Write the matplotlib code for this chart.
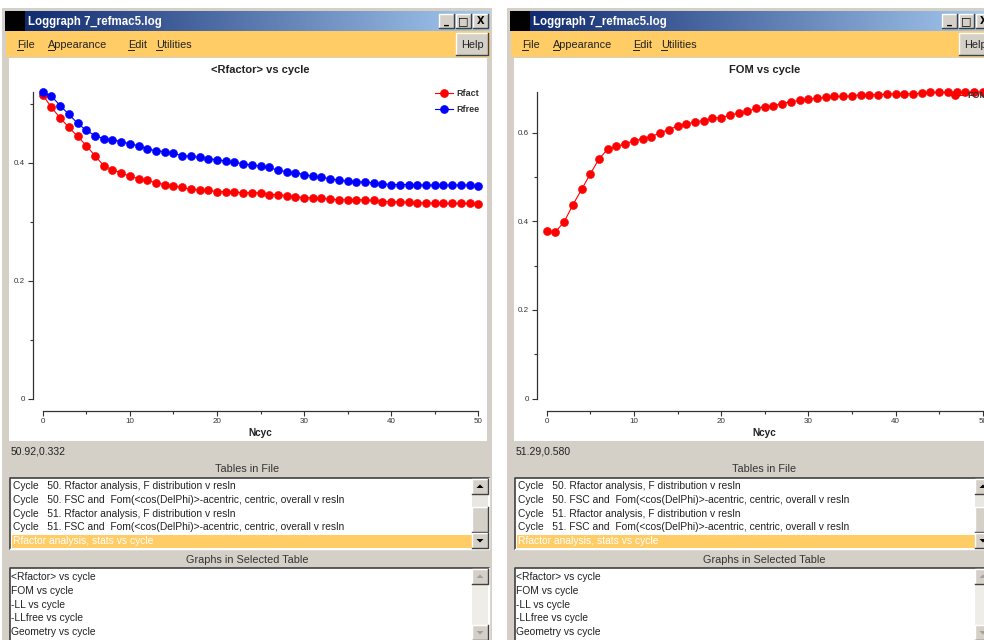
import numpy as np
import matplotlib.pyplot as plt
from matplotlib.patches import Rectangle, Polygon
from matplotlib.colors import LinearSegmentedColormap
from matplotlib.ticker import FuncFormatter

cycles = list(range(51))
rfact = [0.515, 0.494, 0.476, 0.460, 0.445, 0.429, 0.412, 0.395, 0.388, 0.383,
         0.377, 0.373, 0.370, 0.366, 0.363, 0.361, 0.358, 0.355, 0.354, 0.353,
         0.351, 0.351, 0.350, 0.349, 0.349, 0.349, 0.346, 0.346, 0.344, 0.342,
         0.341, 0.340, 0.340, 0.338, 0.337, 0.337, 0.337, 0.337, 0.336, 0.334,
         0.334, 0.333, 0.333, 0.332, 0.332, 0.331, 0.331, 0.331, 0.331, 0.331, 0.330]
rfree = [0.520, 0.513, 0.497, 0.482, 0.467, 0.455, 0.446, 0.441, 0.439, 0.436,
         0.432, 0.429, 0.424, 0.420, 0.419, 0.416, 0.412, 0.411, 0.409, 0.407,
         0.405, 0.403, 0.401, 0.398, 0.396, 0.394, 0.392, 0.387, 0.385, 0.383,
         0.380, 0.377, 0.375, 0.373, 0.370, 0.369, 0.368, 0.367, 0.366, 0.364,
         0.363, 0.363, 0.363, 0.362, 0.362, 0.362, 0.362, 0.362, 0.362, 0.362, 0.361]
fom = [0.378, 0.376, 0.399, 0.437, 0.472, 0.507, 0.541, 0.563, 0.569, 0.575,
       0.582, 0.586, 0.591, 0.600, 0.607, 0.615, 0.619, 0.625, 0.627, 0.633,
       0.634, 0.640, 0.644, 0.648, 0.655, 0.659, 0.661, 0.666, 0.670, 0.673,
       0.676, 0.678, 0.680, 0.682, 0.682, 0.683, 0.686, 0.686, 0.686, 0.687,
       0.688, 0.688, 0.688, 0.689, 0.691, 0.691, 0.691, 0.692, 0.692, 0.692, 0.692]

tables = ['Cycle   50. Rfactor analysis, F distribution v resln',
          'Cycle   50. FSC and  Fom(<cos(DelPhi)>-acentric, centric, overall v resln',
          'Cycle   51. Rfactor analysis, F distribution v resln',
          'Cycle   51. FSC and  Fom(<cos(DelPhi)>-acentric, centric, overall v resln',
          'Rfactor analysis, stats vs cycle']
graphs = ['<Rfactor> vs cycle', 'FOM vs cycle', '-LL vs cycle', '-LLfree vs cycle',
          'Geometry vs cycle']
menu_items = ['File', 'Appearance', 'Edit', 'Utilities']
menu_x = [15, 46, 126, 154]

W, H = 984, 640
GRAY = '#D4D0C8'
ORANGE = '#FFCC66'
TXT = '#222222'

plt.rcParams['font.family'] = ['Liberation Sans', 'DejaVu Sans']

fig = plt.figure(figsize=(W / 100, H / 100), dpi=100)
bg = fig.add_axes([0, 0, 1, 1])
bg.axis('off')
cap_cmap = LinearSegmentedColormap.from_list('cap', ['#0A246A', '#A6CAF0'])


def rect(x0, y0, x1, y1, fc, ec='none', lw=0, z=1):
    bg.add_patch(Rectangle((x0, y0), x1 - x0, y1 - y0, facecolor=fc,
                           edgecolor=ec, linewidth=lw, zorder=z))


def button(x0, y0, x1, y1, fc=GRAY):
    rect(x0, y0, x1, y1, fc, z=3)
    bg.plot([x0, x0, x1], [y1, y0, y0], color='white', lw=1, zorder=4)
    bg.plot([x0, x1, x1], [y1, y1, y0], color='#404040', lw=1, zorder=4)


def sunken(x0, y0, x1, y1):
    rect(x0, y0, x1, y1, 'white', z=2)
    bg.plot([x0, x0, x1], [y1, y0, y0], color='#404040', lw=1.2, zorder=4)
    bg.plot([x0, x1, x1], [y1, y1, y0], color='white', lw=1, zorder=4)


def arrow(cx, cy, up, color='black'):
    d = -1 if up else 1
    bg.add_patch(Polygon([(cx - 3.5, cy - 1.5 * d), (cx + 3.5, cy - 1.5 * d), (cx, cy + 2 * d)],
                         closed=True, facecolor=color, edgecolor='none', zorder=5))


def window(x0, x1, status, cx):
    rect(x0, 8, x1, H, GRAY)
    # caption bar
    grad = np.linspace(0, 1, 256).reshape(1, -1)
    bg.imshow(grad, extent=(x0 + 3, x1 - 2, 31, 11), cmap=cap_cmap, aspect='auto', zorder=2)
    rect(x0 + 3, 11, x0 + 23, 31, 'black', z=3)
    bg.text(x0 + 26, 21.5, 'Loggraph 7_refmac5.log', color='white', fontsize=8.3,
            fontweight='bold', va='center', ha='left', zorder=5)
    for i, s in enumerate(['_', '\u25a1', 'X']):
        bx = x1 - 53 + i * 17
        button(bx, 14, bx + 15, 28)
        bg.text(bx + 7.5, 21.5, s, fontsize=7 if s != '\u25a1' else 8, fontweight='bold',
                ha='center', va='center', zorder=6, family='DejaVu Sans')
    # menu bar
    rect(x0 + 4, 31, x1 - 2, 57, ORANGE, z=2)
    for name, mx in zip(menu_items, menu_x):
        bg.text(x0 + mx, 44.5, name, fontsize=7.8, color=TXT, va='center', ha='left', zorder=5)
        bg.plot([x0 + mx, x0 + mx + 6], [49.5, 49.5], color=TXT, lw=0.7, zorder=5)
    button(x1 - 36, 33, x1 - 4, 55)
    bg.text(x1 - 20, 44.5, 'Help', fontsize=7.8, color=TXT, ha='center', va='center', zorder=6)
    # plot canvas
    rect(x0 + 7, 58, x1 - 5, 441, 'white', z=2)
    bg.text(x0 + 9, 451, status, fontsize=7.5, color=TXT, va='center', ha='left', zorder=5)
    bg.text(cx, 469, 'Tables in File', fontsize=7.8, color='#333333', ha='center', va='center', zorder=5)
    bg.text(cx, 560, 'Graphs in Selected Table', fontsize=7.8, color='#333333', ha='center',
            va='center', zorder=5)
    # first list box
    lx0, lx1 = x0 + 8, x1 - 20
    sunken(lx0, 478, x1 - 3, 549)
    rect(lx0 + 2, 534.5, lx1, 547.5, ORANGE, z=3)
    for k, row in enumerate(tables):
        bg.text(lx0 + 3, 486 + k * 13.8, row, fontsize=7.4, va='center', ha='left', zorder=5,
                color='white' if k == len(tables) - 1 else TXT)
    rect(lx1, 479, x1 - 4, 548, '#E9E7E2', z=3)
    button(lx1, 479, x1 - 4, 494)
    arrow((lx1 + x1 - 4) / 2, 486.5, True)
    button(lx1, 507, x1 - 4, 532)
    button(lx1, 533, x1 - 4, 548)
    arrow((lx1 + x1 - 4) / 2, 540.5, False)
    # second list box
    sunken(lx0, 568, x1 - 3, H + 2)
    for k, row in enumerate(graphs):
        bg.text(lx0 + 1, 577.3 + k * 13.6, row, fontsize=7.4, color=TXT, va='center',
                ha='left', zorder=5)
    rect(lx1, 569, x1 - 4, H, '#EFEDE8', z=3)
    button(lx1, 569, x1 - 4, 584)
    arrow((lx1 + x1 - 4) / 2, 576.5, True, '#A0A0A0')
    button(lx1, 625, x1 - 4, 640)
    arrow((lx1 + x1 - 4) / 2, 632.5, False, '#A0A0A0')


window(2, 492, '50.92,0.332', 247)
window(507, 995, '51.29,0.580', 764)
bg.set_xlim(0, W)
bg.set_ylim(H, 0)


def px_axes(x0, x1, ytop, ybot):
    return fig.add_axes([x0 / W, 1 - ybot / H, (x1 - x0) / W, (ybot - ytop) / H])


def style(ax, title, ymax, yt, ytm):
    ax.patch.set_alpha(0)
    ax.set_xlim(0, 50)
    ax.set_ylim(0, ymax)
    for s in ['top', 'right']:
        ax.spines[s].set_visible(False)
    ax.spines['left'].set_position(('outward', 7.2))
    ax.spines['bottom'].set_position(('outward', 8.8))
    for s in ['left', 'bottom']:
        ax.spines[s].set_color('#333333')
        ax.spines[s].set_linewidth(0.9)
    ax.set_xticks(range(0, 51, 10))
    ax.set_xticks(range(5, 50, 10), minor=True)
    ax.set_yticks(yt)
    ax.set_yticks(ytm, minor=True)
    ax.yaxis.set_major_formatter(FuncFormatter(lambda v, p: f'{v:g}'))
    ax.tick_params(which='major', length=3.5, width=0.8, color='#333333', labelsize=5.8,
                   labelcolor='#333333', pad=2)
    ax.tick_params(which='minor', length=2.5, width=0.8, color='#333333')
    ax.set_xlabel('Ncyc', fontsize=7.2, fontweight='bold', color=TXT, labelpad=2)
    ax.set_title(title, fontsize=8, fontweight='bold', color=TXT, pad=14)


mk = dict(marker='o', ms=5.8, mew=0.4, lw=0.8, clip_on=False)

ax1 = px_axes(42.7, 478.3, 92, 398.5)
ax1.plot(cycles, rfact, color='#FF0000', label='Rfact', **mk)
ax1.plot(cycles, rfree, color='#0000FF', label='Rfree', **mk)
style(ax1, '<Rfactor> vs cycle', max(rfree), [0, 0.2, 0.4], [0.1, 0.3, 0.5])
ax1.legend(loc='upper left', bbox_to_anchor=(435 / W, 1 - 89 / H), bbox_transform=fig.transFigure,
           frameon=False, borderpad=0, borderaxespad=0, handlelength=2.0, handletextpad=0.4,
           labelspacing=0.75, prop={'size': 6.5, 'weight': 'bold'}, labelcolor='#333333')

ax2 = px_axes(546.7, 982.7, 92, 398.5)
ax2.plot(cycles, fom, color='#FF0000', label='FOM', **mk)
style(ax2, 'FOM vs cycle', max(fom), [0, 0.2, 0.4, 0.6], [0.1, 0.3, 0.5])
ax2.legend(loc='upper left', bbox_to_anchor=(946 / W, 1 - 91 / H), bbox_transform=fig.transFigure,
           frameon=False, borderpad=0, borderaxespad=0, handlelength=2.0, handletextpad=0.4,
           prop={'size': 6.5, 'weight': 'bold'}, labelcolor='#333333')

fig.savefig('out.png', dpi=100)
